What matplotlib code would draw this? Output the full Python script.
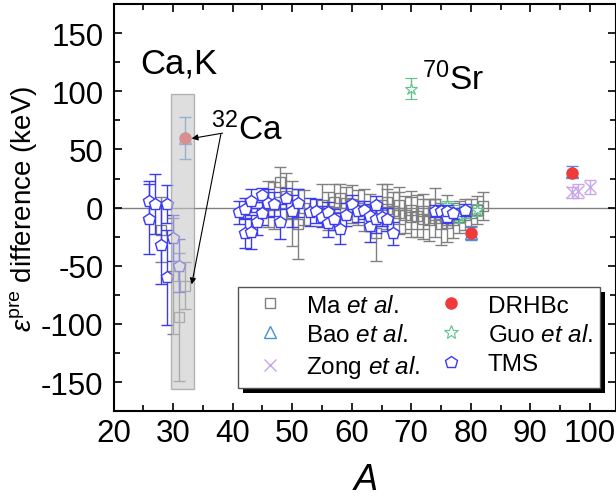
import matplotlib
matplotlib.use("Agg")
import matplotlib.pyplot as plt
from matplotlib.lines import Line2D
from matplotlib.patches import Rectangle
from matplotlib.ticker import MultipleLocator

plt.rcParams.update({
    "font.family": ["Liberation Sans", "DejaVu Sans"],
    "mathtext.fontset": "custom",
    "mathtext.rm": "Liberation Sans",
    "mathtext.it": "Liberation Sans:italic",
    "mathtext.bf": "Liberation Sans:bold",
    "axes.unicode_minus": False,
})

# ---- data (A, value, error) ----
tms_a = [26, 26, 27, 28, 29, 29, 30, 31,
         41, 42, 42, 43, 43, 44, 45, 45, 46, 47, 48, 49, 50, 51, 53, 54, 55,
         56, 56, 57, 58, 59, 60, 61, 62, 63, 63, 64, 64, 65, 66, 67,
         74, 75, 76, 76, 77, 79]
tms_v = [6, -10, 3, -32, 3, -60, -26, -50,
         -4, -1, -22, 6, -21, -12, 11, -5, 4, 3, -12, 8, -3, 4, -4, -3, -8,
         -4, -13, -10, -18, -6, 3, -3, -2, -16, -7, 2, -10, -8, -10, -22,
         -3, -3, -8, -3, -5, -2]
tms_e = [17, 30, 26, 34, 16, 41, 20, 23,
         10, 9, 13, 10, 15, 12, 6, 10, 12, 10, 15, 9, 14, 12, 12, 10, 9,
         9, 12, 9, 13, 10, 8, 9, 8, 14, 10, 8, 12, 8, 10, 10,
         5, 4, 5, 5, 5, 5]

ma_a = [28, 30, 31, 32,
        46, 47, 48, 49, 50, 51, 52,
        55, 56, 57, 58, 59, 60, 61, 62, 63, 64, 65, 66, 67, 68, 69, 70,
        71, 72, 73, 74, 75, 76, 77, 78, 79, 80, 81, 82,
        66, 68, 70, 72, 74, 76]
ma_v = [-19, -59, -94, -67,
        3, 2, 22, 10, -5, -14, 0,
        2, -3, 5, 8, 4, 3, 0, -2, -4, -22, 2, -1, -3, -5, -6, -8,
        -7, -10, -11, -9, -14, -13, -11, -8, -6, -5, -2, 1,
        5, 2, -2, -3, 3, -2]
ma_e = [28, 50, 55, 20,
        20, 20, 13, 20, 28, 30, 15,
        18, 16, 15, 12, 14, 16, 15, 18, 16, 24, 18, 17, 16, 18, 16, 17,
        18, 17, 18, 16, 18, 17, 15, 14, 13, 12, 12, 12,
        15, 16, 16, 15, 14, 13]

bao_a = [32, 80, 97]
bao_v = [60, -22, 31]
bao_e = [18, 6, 5]

drhbc_a = [32, 80, 97]
drhbc_v = [60, -22, 30]

guo_a = [70, 76, 77, 78, 79, 81]
guo_v = [102, 2, -3, -7, -4, -2]
guo_e = [9, 4, 5, 6, 5, 5]

zong_a = [97, 98, 100]
zong_v = [13, 14, 18]
zong_e = [5, 6, 6]

c_tms = "#3b3bf5"
c_ma = "#808080"
c_bao = "#4a8fe0"
c_zong = "#c9a6ea"
c_guo = "#5cc48a"
c_red = "#ee3a3a"

fig = plt.figure(figsize=(6.16, 5.02), dpi=100)
ax = fig.add_axes([0.1846, 0.179, 0.8154, 0.811])

ax.axhline(0, color="#808080", lw=1.0, zorder=1)

ax.errorbar(ma_a, ma_v, yerr=ma_e, fmt="s", ms=7, mfc="none", mec=c_ma, mew=1.0,
            ecolor=c_ma, elinewidth=1.0, capsize=4, capthick=1.0, zorder=2)
ax.errorbar(zong_a, zong_v, yerr=zong_e, fmt="x", ms=8, mec=c_zong, mew=1.0,
            ecolor=c_zong, elinewidth=1.0, capsize=4, capthick=1.0, zorder=2)
ax.errorbar(guo_a, guo_v, yerr=guo_e, fmt="*", ms=9, mfc="white", mec=c_guo, mew=0.8,
            ecolor=c_guo, elinewidth=1.0, capsize=4, capthick=1.0, zorder=2.5)
ax.errorbar(bao_a, bao_v, yerr=bao_e, fmt="^", ms=8, mfc="none", mec=c_bao, mew=1.0,
            ecolor=c_bao, elinewidth=1.0, capsize=4, capthick=1.0, zorder=2.6)
ax.errorbar(tms_a, tms_v, yerr=tms_e, fmt="p", ms=9, mfc="white", mec=c_tms, mew=1.0,
            ecolor=c_tms, elinewidth=1.0, capsize=4, capthick=1.0, zorder=3)
ax.plot(drhbc_a, drhbc_v, "o", ms=8, color=c_red, zorder=4)

# shaded Ca,K region drawn on top
ax.add_patch(Rectangle((29.7, -156), 3.8, 254, facecolor="#c8c8c8", edgecolor="#8a8a8a",
                       lw=1.0, alpha=0.6, zorder=4.5))

ax.text(24.4, 116, "Ca,K", fontsize=25, zorder=6)
ax.text(36.4, 59, r"$^{32}$Ca", fontsize=24, zorder=6)
ax.text(71.8, 102, r"$^{70}$Sr", fontsize=24, zorder=6)
arrow = dict(arrowstyle="-|>", color="black", lw=0.8, mutation_scale=9,
             shrinkA=0, shrinkB=0)
ax.annotate("", xy=(33.1, 59.4), xytext=(38.3, 64), arrowprops=arrow, zorder=6)
ax.annotate("", xy=(33.1, -66), xytext=(38.0, 63), arrowprops=arrow, zorder=6)

ax.set_xlim(20, 104.4)
ax.set_ylim(-175, 175)
ax.xaxis.set_major_locator(MultipleLocator(10))
ax.xaxis.set_minor_locator(MultipleLocator(5))
ax.yaxis.set_major_locator(MultipleLocator(50))
ax.yaxis.set_minor_locator(MultipleLocator(25))
ax.tick_params(which="both", direction="in", top=True, right=True, width=1.2,
               labelsize=22.5)
ax.tick_params(axis="y", pad=7.5)
ax.tick_params(axis="x", pad=5)
ax.tick_params(which="major", length=6)
ax.tick_params(which="minor", length=4)
for s in ax.spines.values():
    s.set_linewidth(1.5)

ax.set_xlabel(r"$\it{A}$", fontsize=26)
ax.xaxis.set_label_coords(0.5, -0.125)
ax.set_ylabel(r"$\varepsilon^{\rm pre}$ difference (keV)", fontsize=20)
ax.yaxis.set_label_coords(-0.149, 0.5)

handles = [
    Line2D([], [], ls="none", marker="s", ms=7, mfc="none", mec=c_ma),
    Line2D([], [], ls="none", marker="^", ms=9, mfc="none", mec=c_bao),
    Line2D([], [], ls="none", marker="x", ms=9, mec=c_zong),
    Line2D([], [], ls="none", marker="o", ms=8, color=c_red),
    Line2D([], [], ls="none", marker="*", ms=10, mfc="none", mec=c_guo, mew=0.8),
    Line2D([], [], ls="none", marker="p", ms=9, mfc="none", mec=c_tms),
]
labels = [r"Ma $\it{et\ al.}$", r"Bao $\it{et\ al.}$", r"Zong $\it{et\ al.}$",
          "DRHBc", r"Guo $\it{et\ al.}$", "TMS"]
leg = ax.legend(handles, labels, ncol=2, loc="upper left", bbox_to_anchor=(0.248, 0.304),
                fontsize=17.5, frameon=True, fancybox=False, edgecolor="#555555",
                framealpha=1.0, handlelength=2.0, handletextpad=0.5, columnspacing=0.25,
                labelspacing=0.3, borderpad=0.3, borderaxespad=0)
leg.get_frame().set_linewidth(1.0)
leg.set_zorder(8)

# solid black drop shadow behind legend
fig.canvas.draw()
bb = leg.get_window_extent().transformed(ax.transAxes.inverted())
dx = 5 / (ax.bbox.width)
dy = 5 / (ax.bbox.height)
ax.add_patch(Rectangle((bb.x0 + dx, bb.y0 - dy), bb.width, bb.height, transform=ax.transAxes,
                       facecolor="black", edgecolor="none", zorder=7.9, clip_on=False))

fig.savefig("out.png", dpi=100, facecolor="white")
